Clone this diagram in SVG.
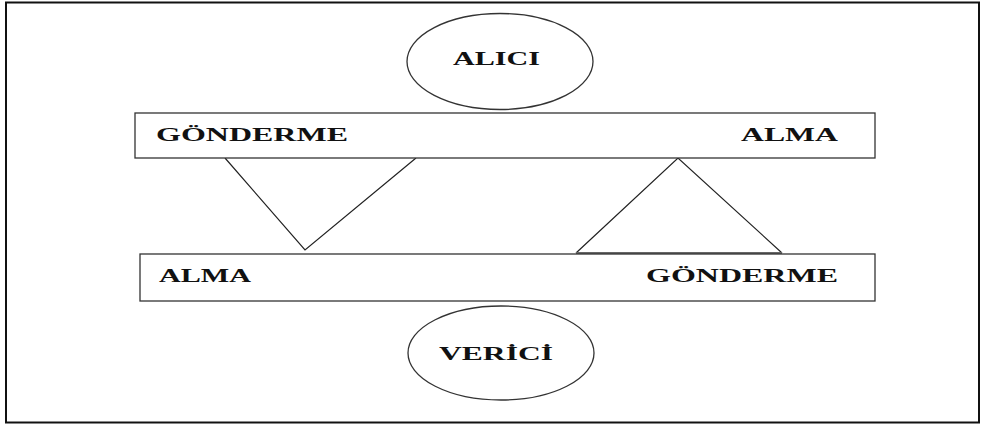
<svg xmlns="http://www.w3.org/2000/svg" width="982" height="427" viewBox="0 0 982 427">
<style>
.sh{fill:#fff;stroke:#333;stroke-width:1.3}
.ln{fill:none;stroke:#222;stroke-width:1.2}
.t{font-family:"Liberation Serif","Times New Roman",serif;font-weight:bold;font-size:18px;fill:#111}
</style>
<rect x="0" y="0" width="982" height="427" fill="#fff"/>
<rect x="6" y="2.5" width="973" height="420" fill="none" stroke="#111" stroke-width="2"/>
<g id="connectors">
<polyline class="ln" points="225,158 305,250 416,158"/>
<polyline class="ln" points="576,253 678,158 782,253"/>
<line x1="576" y1="253" x2="782" y2="253" stroke="#666" stroke-width="2"/>
</g>
<g id="alici">
<ellipse class="sh" cx="500" cy="61.5" rx="93" ry="48"/>
<text class="t" x="453" y="65" textLength="87" lengthAdjust="spacingAndGlyphs">ALICI</text>
</g>
<g id="top-box">
<rect class="sh" x="135" y="113" width="740" height="45"/>
<text class="t" x="156" y="141" textLength="192" lengthAdjust="spacingAndGlyphs">GÖNDERME</text>
<text class="t" x="741" y="141" textLength="97" lengthAdjust="spacingAndGlyphs">ALMA</text>
</g>
<g id="bottom-box">
<rect class="sh" x="140" y="254" width="735" height="47"/>
<text class="t" x="159" y="282" textLength="92" lengthAdjust="spacingAndGlyphs">ALMA</text>
<text class="t" x="646" y="282" textLength="192" lengthAdjust="spacingAndGlyphs">GÖNDERME</text>
</g>
<g id="verici">
<ellipse class="sh" cx="501" cy="353" rx="93" ry="47"/>
<text class="t" x="439" y="360" textLength="114" lengthAdjust="spacingAndGlyphs">VERİCİ</text>
</g>
</svg>
